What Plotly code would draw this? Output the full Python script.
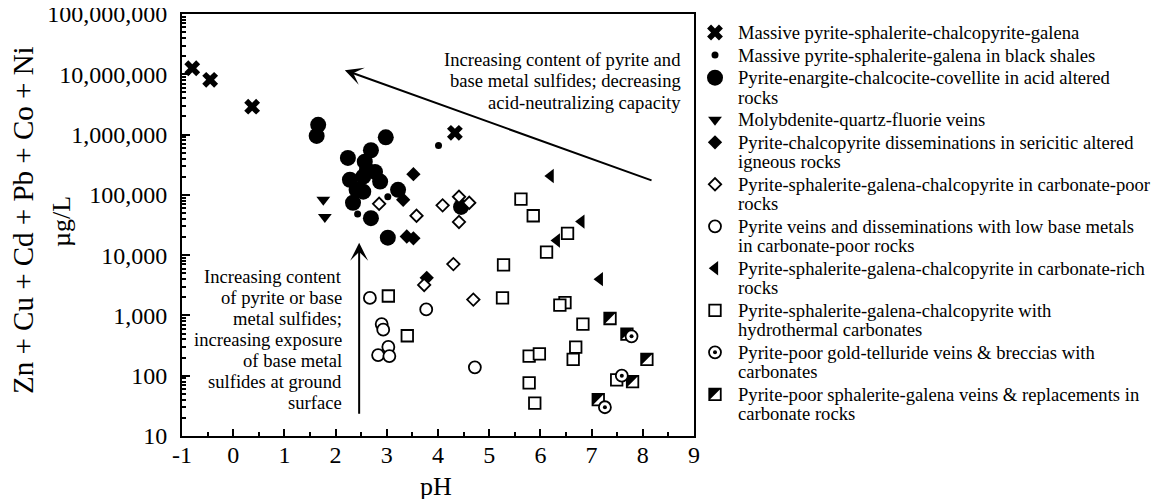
import math
import plotly.graph_objects as go

W, H = 1161, 499
OFF = 8   # the page body margin shifts the figure by this many pixels
PL, PR, PT, PB = 182, 694, 14, 436   # main plot box (screenshot pixels)
FONT = "Liberation Serif, Times New Roman, serif"

# ---------------- data (pH, total metals in ug/L) ----------------
massive_ph = [-0.80, -0.45, 0.37, 4.33]
massive_conc = [12600000, 8100000, 2900000, 1070000]

shale_ph = [4.01, 3.02, 2.43]
shale_conc = [660000, 93000, 48000]

enargite_ph = [1.66, 1.63, 2.98, 2.69, 2.24, 2.57, 2.61, 2.77, 2.54, 2.28, 2.87,
               2.41, 2.54, 3.22, 2.34, 2.69, 3.02, 4.45]
enargite_conc = [1450000, 950000, 900000, 550000, 410000, 355000, 257000, 240000,
                 200000, 178000, 166000, 121000, 113000, 121000, 74000, 41000,
                 19500, 63000]

moly_ph = [1.76, 1.79]
moly_conc = [83000, 43000]

sericitic_ph = [3.52, 3.32, 3.39, 3.52, 3.78]
sericitic_conc = [220000, 83000, 20400, 19000, 4200]

cpoor_ph = [2.85, 3.58, 4.09, 4.41, 4.61, 4.41, 4.30, 3.73, 4.69]
cpoor_conc = [71000, 45000, 67000, 93000, 74000, 35500, 7100, 3200, 1830]

lowbm_ph = [2.67, 2.90, 2.93, 3.03, 2.83, 3.05, 3.77, 4.72]
lowbm_conc = [1950, 720, 580, 300, 220, 212, 1260, 138]

crich_ph = [6.20, 6.80, 6.32, 7.16]
crich_conc = [205000, 36000, 17500, 4000]

hydro_ph = [5.62, 5.86, 6.53, 6.12, 5.28, 3.03, 3.40, 5.26, 6.48, 6.38, 6.83,
            6.69, 6.64, 5.78, 5.98, 5.78, 5.89, 7.49]
hydro_conc = [85000, 45000, 23000, 11200, 6900, 2100, 460, 1950, 1630, 1480, 720,
              297, 187, 212, 230, 76, 35, 85]

telluride_ph = [7.78, 7.59, 7.26]
telluride_conc = [450, 100, 30]

veins_ph = [7.36, 7.69, 8.08, 7.80, 7.13]
veins_conc = [890, 490, 186, 80, 40]

# axis ticks
x_ticks = [-1, 0, 1, 2, 3, 4, 5, 6, 7, 8, 9]
y_tickvals = [10, 100, 1000, 10000, 100000, 1000000, 10000000, 100000000]
y_ticktext = ["10", "100", "1,000", "10,000", "100,000", "1,000,000",
              "10,000,000", "100,000,000"]

legend_labels = [
    ["Massive pyrite-sphalerite-chalcopyrite-galena"],
    ["Massive pyrite-sphalerite-galena in black shales"],
    ["Pyrite-enargite-chalcocite-covellite in acid altered", "rocks"],
    ["Molybdenite-quartz-fluorie veins"],
    ["Pyrite-chalcopyrite disseminations in sericitic altered", "igneous rocks"],
    ["Pyrite-sphalerite-galena-chalcopyrite in carbonate-poor", "rocks"],
    ["Pyrite veins and disseminations with low base metals", "in carbonate-poor rocks"],
    ["Pyrite-sphalerite-galena-chalcopyrite in carbonate-rich", "rocks"],
    ["Pyrite-sphalerite-galena-chalcopyrite with", "hydrothermal carbonates"],
    ["Pyrite-poor gold-telluride veins & breccias with", "carbonates"],
    ["Pyrite-poor sphalerite-galena veins & replacements in", "carbonate rocks"],
]

note_top = ["Increasing content of pyrite and", "base metal sulfides; decreasing",
            "acid-neutralizing capacity"]
note_left = ["Increasing content", "of pyrite or base", "metal sulfides;",
             "increasing exposure", "of base metal", "sulfides at ground", "surface"]

# arrows (pH, concentration) : tip and tail
arrow_diag = dict(tip=(2.18, 11700000), tail=(8.20, 170000))
arrow_vert = dict(tip=(2.46, 16000), tail=(2.46, 22))

# ---------------- styles ----------------
STYLES = [
    dict(symbol="x", size=14, color="black", lw=0),                # massive
    dict(symbol="circle", size=7, color="black", lw=0),            # shales
    dict(symbol="circle", size=16, color="black", lw=0),           # enargite
    dict(symbol="triangle-down", size=12, color="black", lw=0),    # moly
    dict(symbol="diamond", size=11, color="black", lw=0),          # sericitic
    dict(symbol="diamond", size=9.5, color="white", lw=1.8),       # carbonate-poor
    dict(symbol="circle", size=12, color="white", lw=1.8),         # low base metals
    dict(symbol="triangle-left", size=12.5, color="black", lw=0),  # carbonate-rich
    dict(symbol="square", size=11.5, color="white", lw=1.8),       # hydrothermal
    dict(symbol="circle", size=12, color="white", lw=1.8),         # telluride
    dict(symbol="square-open", size=11.5, color="black", lw=1.8),  # veins
]

fig = go.Figure()


def add_pts(xs, ys, st, xa="x", ya="y"):
    fig.add_trace(go.Scatter(
        x=xs, y=ys, mode="markers", xaxis=xa, yaxis=ya, hoverinfo="skip",
        marker=dict(symbol=st["symbol"], size=st["size"], color=st["color"],
                    line=dict(color="black", width=st["lw"])),
        showlegend=False, cliponaxis=False))


def half_square(x, y, xref, yref, layer):
    h = 5.9
    fig.add_shape(type="path", xref=xref, yref=yref, xsizemode="pixel",
                  ysizemode="pixel", xanchor=x, yanchor=y,
                  path=f"M{-h},{h} L{h},{h} L{-h},{-h} Z",
                  fillcolor="black", line=dict(width=0), layer=layer)


series = [
    (massive_ph, massive_conc), (shale_ph, shale_conc),
    (enargite_ph, enargite_conc), (moly_ph, moly_conc),
    (sericitic_ph, sericitic_conc), (cpoor_ph, cpoor_conc),
    (lowbm_ph, lowbm_conc), (crich_ph, crich_conc), (hydro_ph, hydro_conc),
    (telluride_ph, telluride_conc), (veins_ph, veins_conc),
]
# draw order in the plot
order = [0, 2, 1, 3, 4, 5, 6, 7, 8, 10, 9]
for i in order:
    xs, ys = series[i]
    add_pts(xs, ys, STYLES[i])
    if i == 9:   # dot in the centre of the telluride circles
        add_pts(xs, ys, dict(symbol="circle", size=4, color="black", lw=0))
    if i == 10:
        for x, y in zip(xs, ys):
            half_square(x, y, "x", "y", "between")

# ---------------- legend (drawn on a pixel-space overlay axis) ----------------
LEG_MX, LEG_TX = 715, 736
LEG_Y0, LINE_STEP, ENTRY_STEP = 32.5, 19.4, 22.6
annotations = []
yline = LEG_Y0
for k, lines in enumerate(legend_labels):
    st = STYLES[k]
    add_pts([LEG_MX], [yline], st, "x2", "y2")
    if k == 9:
        add_pts([LEG_MX], [yline], dict(symbol="circle", size=4, color="black", lw=0), "x2", "y2")
    if k == 10:
        half_square(LEG_MX, yline, "x2", "y2", "above")
    for j, t in enumerate(lines):
        annotations.append(dict(x=LEG_TX, y=yline + j * LINE_STEP, xref="x2", yref="y2",
                                text=t, showarrow=False, xanchor="left", yanchor="middle",
                                font=dict(size=18.6, color="black", family=FONT)))
    yline += (len(lines) - 1) * LINE_STEP + ENTRY_STEP

# text notes inside the plot
for j, t in enumerate(note_top):
    annotations.append(dict(x=683, y=59 + j * 21.5, xref="x2", yref="y2", text=t,
                            showarrow=False, xanchor="right", yanchor="middle",
                            font=dict(size=18.6, color="black", family=FONT)))
for j, t in enumerate(note_left):
    annotations.append(dict(x=344, y=276 + j * 21, xref="x2", yref="y2", text=t,
                            showarrow=False, xanchor="right", yanchor="middle",
                            font=dict(size=18.6, color="black", family=FONT)))

# arrows
for a in (arrow_diag, arrow_vert):
    annotations.append(dict(x=a["tip"][0], y=math.log10(a["tip"][1]), xref="x", yref="y",
                            ax=a["tail"][0], ay=math.log10(a["tail"][1]),
                            axref="x", ayref="y", text="", showarrow=True,
                            arrowhead=3, arrowsize=1.5, arrowwidth=2,
                            arrowcolor="black", standoff=0))

# axis titles
annotations.append(dict(x=23, y=220, xref="x2", yref="y2", text="Zn + Cu + Cd + Pb + Co + Ni",
                        textangle=-90, showarrow=False, xanchor="center", yanchor="middle",
                        font=dict(size=29, color="black", family=FONT)))
annotations.append(dict(x=61, y=222, xref="x2", yref="y2", text="µg/L",
                        textangle=-90, showarrow=False, xanchor="center", yanchor="middle",
                        font=dict(size=26, color="black", family=FONT)))
annotations.append(dict(x=436, y=486, xref="x2", yref="y2", text="pH",
                        showarrow=False, xanchor="center", yanchor="middle",
                        font=dict(size=26, color="black", family=FONT)))

y_minor = [k * 10 ** n for n in range(1, 8) for k in range(2, 10)]

fig.update_layout(
    width=W, height=H, margin=dict(l=0, r=0, t=0, b=0, pad=0),
    paper_bgcolor="white", plot_bgcolor="rgba(0,0,0,0)",
    showlegend=False, font=dict(family=FONT, color="black"),
    annotations=annotations,
    xaxis=dict(domain=[(PL - OFF) / W, (PR - OFF) / W], range=[-1, 9], anchor="y",
               tickvals=x_ticks, ticktext=[str(v) for v in x_ticks],
               ticks="inside", ticklen=7, tickwidth=2, tickcolor="black",
               minor=dict(dtick=0.5, tick0=-1, ticks="inside", ticklen=4,
                          tickwidth=2, tickcolor="black", showgrid=False),
               showline=True, linewidth=2, linecolor="black", mirror=True,
               showgrid=False, zeroline=False, automargin=False,
               tickfont=dict(size=24, family=FONT, color="black"),
               ticklabelstandoff=-4, ticklabeloverflow="allow"),
    yaxis=dict(domain=[(H - PB + OFF) / H, (H - PT + OFF) / H], type="log", range=[1, 8],
               anchor="x", tickvals=y_tickvals, ticktext=y_ticktext,
               ticks="inside", ticklen=8, tickwidth=2, tickcolor="black",
               minor=dict(tickvals=y_minor, ticks="inside", ticklen=4,
                          tickwidth=1.5, tickcolor="black", showgrid=False),
               showline=True, linewidth=2, linecolor="black", mirror=True,
               showgrid=False, zeroline=False, automargin=False,
               tickfont=dict(size=24, family=FONT, color="black"),
               ticklabelstandoff=8, ticklabeloverflow="allow"),
    # pixel-space overlay axes (coordinates as measured on the screenshot)
    xaxis2=dict(domain=[0, 1], range=[OFF, W + OFF], anchor="y2", visible=False,
                fixedrange=True),
    yaxis2=dict(domain=[0, 1], range=[H + OFF, OFF], anchor="x2", visible=False,
                fixedrange=True),
)

fig.write_html("out.html")
